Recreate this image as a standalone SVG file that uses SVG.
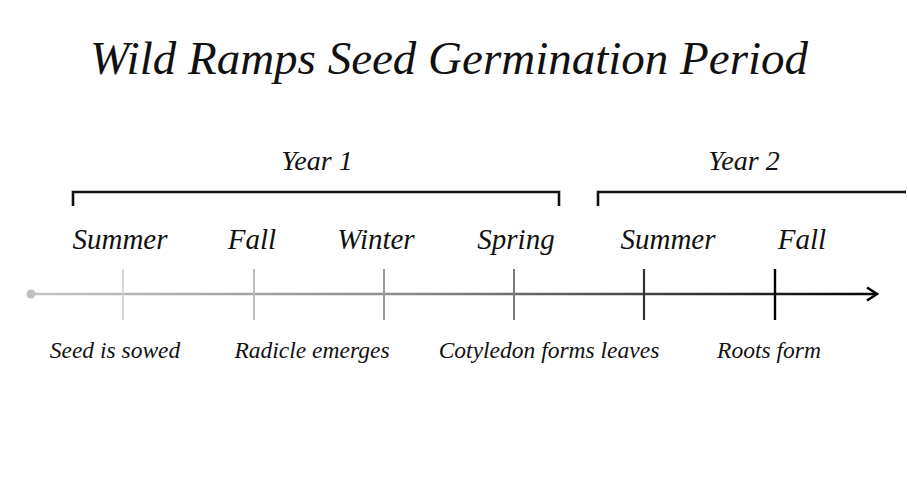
<svg xmlns="http://www.w3.org/2000/svg" width="908" height="484" viewBox="0 0 908 484">
<style>
text { font-family: "Liberation Serif", "DejaVu Serif", serif; font-style: italic; fill: #111; text-anchor: middle; }
.title { font-size: 47px; }
.year { font-size: 28px; }
.season { font-size: 29px; }
.event { font-size: 23.5px; }
.bracket { fill: none; stroke: #111; stroke-width: 2.6; }
</style>
<defs>
<linearGradient id="axisGrad" gradientUnits="userSpaceOnUse" x1="31" y1="0" x2="877" y2="0">
<stop offset="0" stop-color="#c4c4c4"/>
<stop offset="0.45" stop-color="#8a8a8a"/>
<stop offset="1" stop-color="#000"/>
</linearGradient>
</defs>
<rect width="908" height="484" fill="#fff"/>
<g id="title"><text class="title" x="449" y="74">Wild Ramps Seed Germination Period</text></g>
<g id="year1">
<text class="year" x="317" y="170">Year 1</text>
<path class="bracket" d="M73,206 V192 H559 V206"/>
</g>
<g id="year2">
<text class="year" x="744" y="170">Year 2</text>
<path class="bracket" d="M598,206 V192 H906"/>
</g>
<g id="seasons">
<text class="season" x="120" y="249">Summer</text>
<text class="season" x="252" y="249">Fall</text>
<text class="season" x="376" y="249">Winter</text>
<text class="season" x="516" y="249">Spring</text>
<text class="season" x="668" y="249">Summer</text>
<text class="season" x="802" y="249">Fall</text>
</g>
<g id="events">
<text class="event" x="115" y="358">Seed is sowed</text>
<text class="event" x="312" y="358">Radicle emerges</text>
<text class="event" x="549" y="358">Cotyledon forms leaves</text>
<text class="event" x="769" y="358">Roots form</text>
</g>
<g id="connectors">
<circle cx="31" cy="294" r="4.5" fill="#c0c0c0"/>
<line x1="31" y1="294" x2="875" y2="294" stroke="url(#axisGrad)" stroke-width="2.6"/>
<path d="M867,287.5 L877,294 L867,300.5" fill="none" stroke="#000" stroke-width="2.6" stroke-linejoin="miter"/>
<line x1="123" y1="269" x2="123" y2="320" stroke="#cfcfcf" stroke-width="1.6"/>
<line x1="254" y1="269" x2="254" y2="320" stroke="#b8b8b8" stroke-width="1.8"/>
<line x1="384" y1="269" x2="384" y2="320" stroke="#9a9a9a" stroke-width="2"/>
<line x1="514" y1="269" x2="514" y2="320" stroke="#7a7a7a" stroke-width="2"/>
<line x1="644" y1="269" x2="644" y2="320" stroke="#333" stroke-width="2.2"/>
<line x1="775" y1="269" x2="775" y2="320" stroke="#000" stroke-width="2.4"/>
</g>
</svg>
